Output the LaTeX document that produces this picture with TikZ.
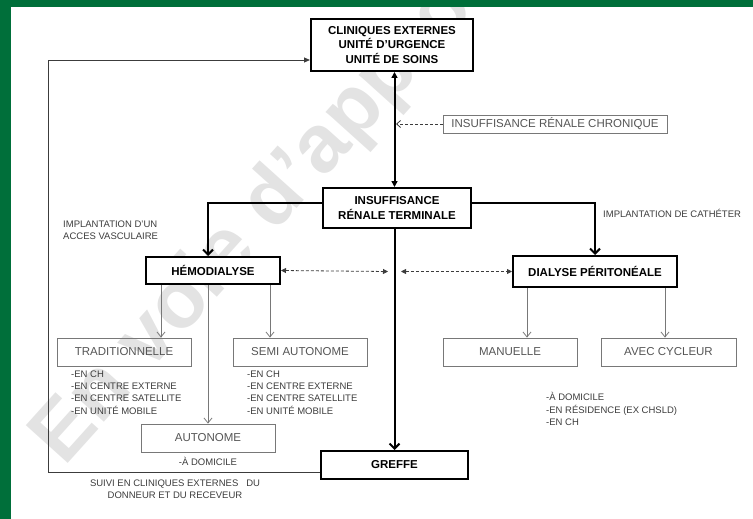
\documentclass[tikz,border=0pt]{standalone}
\usepackage{fontspec}
\setmainfont{Liberation Sans}
\usetikzlibrary{arrows.meta}
\usetikzlibrary{positioning}
\definecolor{framegreen}{RGB}{0,111,58}
\definecolor{boxgray}{RGB}{120,120,120}
\definecolor{textgray}{RGB}{85,85,85}
\definecolor{listgray}{RGB}{60,60,60}
\tikzstyle{bigbox}=[rectangle, draw, fill=white, line width=2pt, font=\fontsize{11.5}{14.5}\selectfont\bfseries, align=center, inner sep=0pt]
\tikzstyle{smallbox}=[rectangle, draw=boxgray, line width=0.8pt, text=textgray, font=\fontsize{11.5}{14}\selectfont, inner sep=0pt, minimum width=134pt, minimum height=28pt]
\tikzstyle{notetext}=[text=listgray, font=\fontsize{9.5}{12.4}\selectfont, align=left, inner sep=0pt]
\tikzstyle{fatline}=[line width=2pt]
\tikzstyle{thinline}=[draw=boxgray, line width=0.8pt]
\tikzstyle{chev}=[-{Straight Barb[length=5pt,width=10pt]}]
\tikzstyle{subarrow}=[thinline, -{Straight Barb[length=5pt,width=8pt]}]
\tikzstyle{dashlink}=[draw=listgray, line width=0.8pt, dash pattern=on 3pt off 2pt, {Triangle[length=5pt,width=5pt]}-{Triangle[length=5pt,width=5pt]}]

\begin{document}
\begin{tikzpicture}[x=1pt, y=-1pt]
    \useasboundingbox (0,0) rectangle (753,519);
    % watermark
    \node[rotate=48, anchor=base west, text=gray!22, font=\fontsize{82}{82}\selectfont\bfseries] (wm) at (62,470) {En voie d'approbation};
    % frame
    \fill[framegreen] (0,0) rectangle (753,7);
    \fill[framegreen] (0,0) rectangle (11,519);

    % nodes
    \node[bigbox, minimum width=162pt, minimum height=52pt] (cliniques) at (392,45) {CLINIQUES EXTERNES\\UNITÉ D'URGENCE\\UNITÉ DE SOINS};
    \node[smallbox, fill=white, minimum width=224pt, minimum height=18pt] (chronique) at (555,124) {INSUFFISANCE RÉNALE CHRONIQUE};
    \node[bigbox, minimum width=148pt, minimum height=40pt] (terminal) at (397,208) {INSUFFISANCE\\RÉNALE TERMINALE};
    \node[bigbox, minimum width=134pt, minimum height=27pt] (hemo) at (213,270.5) {HÉMODIALYSE};
    \node[bigbox, minimum width=164pt, minimum height=31pt] (dialyse) at (595,271.5) {DIALYSE PÉRITONÉALE};
    \node[bigbox, minimum width=147pt, minimum height=28pt] (greffe) at (394.5,465) {GREFFE};

    \node[smallbox] (trad) at (124,352) {TRADITIONNELLE};
    \node[smallbox] (semi) at (300,352) {SEMI AUTONOME};
    \node[smallbox] (auto) at (208,438) {AUTONOME};
    \node[smallbox] (manuelle) at (510,352) {MANUELLE};
    \node[smallbox, minimum width=135pt] (cycleur) at (668.5,352) {AVEC CYCLEUR};

    % texts
    \node[notetext, anchor=west] (vasc) at (63,230.5) {IMPLANTATION D'UN\\ACCES VASCULAIRE};
    \node[notetext, anchor=west] (cath) at (603,213) {IMPLANTATION DE CATHÉTER};
    \node[notetext, anchor=west] (tradlist) at (71,392.5) {-EN CH\\-EN CENTRE EXTERNE\\-EN CENTRE SATELLITE\\-EN UNITÉ MOBILE};
    \node[notetext, anchor=west] (semilist) at (247,392.5) {-EN CH\\-EN CENTRE EXTERNE\\-EN CENTRE SATELLITE\\-EN UNITÉ MOBILE};
    \node[notetext, below=5pt of auto] (autolist) {-À DOMICILE};
    \node[notetext, anchor=west] (dplist) at (546,409) {-À DOMICILE\\-EN RÉSIDENCE (EX CHSLD)\\-EN CH};
    \node[notetext, align=center] (suivi) at (175,489) {SUIVI EN CLINIQUES EXTERNES\ \ \ DU\\DONNEUR ET DU RECEVEUR};

    \coordinate (back) at (48,0);
    \coordinate (dl) at (388,271.5);
    \coordinate (dr) at (401,271.5);
    \coordinate (chrtip) at (396,124);

    % links
    \draw[fatline, {Triangle[length=6pt,width=6pt]}-{Triangle[length=6pt,width=6pt]}] (cliniques.south -| greffe.north) -- (terminal.north -| greffe.north);
    \draw[draw=listgray, line width=0.8pt, dash pattern=on 3pt off 2pt, -{Straight Barb[length=4pt,width=7pt]}] (chronique.west) -- (chrtip);
    \draw[fatline, chev] ([yshift=5pt]terminal.west) -| ([xshift=-5pt]hemo.north);
    \draw[fatline, chev] ([yshift=5pt]terminal.east) -| (dialyse.north);
    \draw[fatline, chev] (terminal.south -| greffe.north) -- (greffe.north);
    \draw[dashlink] (hemo.east) -- (dl);
    \draw[dashlink] (dr) -- (dialyse.west);

    \draw[subarrow] ([xshift=-52pt]hemo.south) -- ([xshift=-52pt]hemo.south |- trad.north);
    \draw[subarrow] ([xshift=57pt]hemo.south) -- ([xshift=57pt]hemo.south |- semi.north);
    \draw[subarrow] (hemo.south -| auto.north) -- (auto.north);
    \draw[subarrow] ([xshift=-68pt]dialyse.south) -- ([xshift=-68pt]dialyse.south |- manuelle.north);
    \draw[subarrow] ([xshift=70pt]dialyse.south) -- ([xshift=70pt]dialyse.south |- cycleur.north);

    \draw[draw=listgray, line width=0.8pt, -{Triangle[length=6pt,width=5pt]}] ([yshift=-7pt]greffe.west) -- ([yshift=-7pt]greffe.west -| back) |- ([yshift=-15pt]cliniques.west);
\end{tikzpicture}
\end{document}
